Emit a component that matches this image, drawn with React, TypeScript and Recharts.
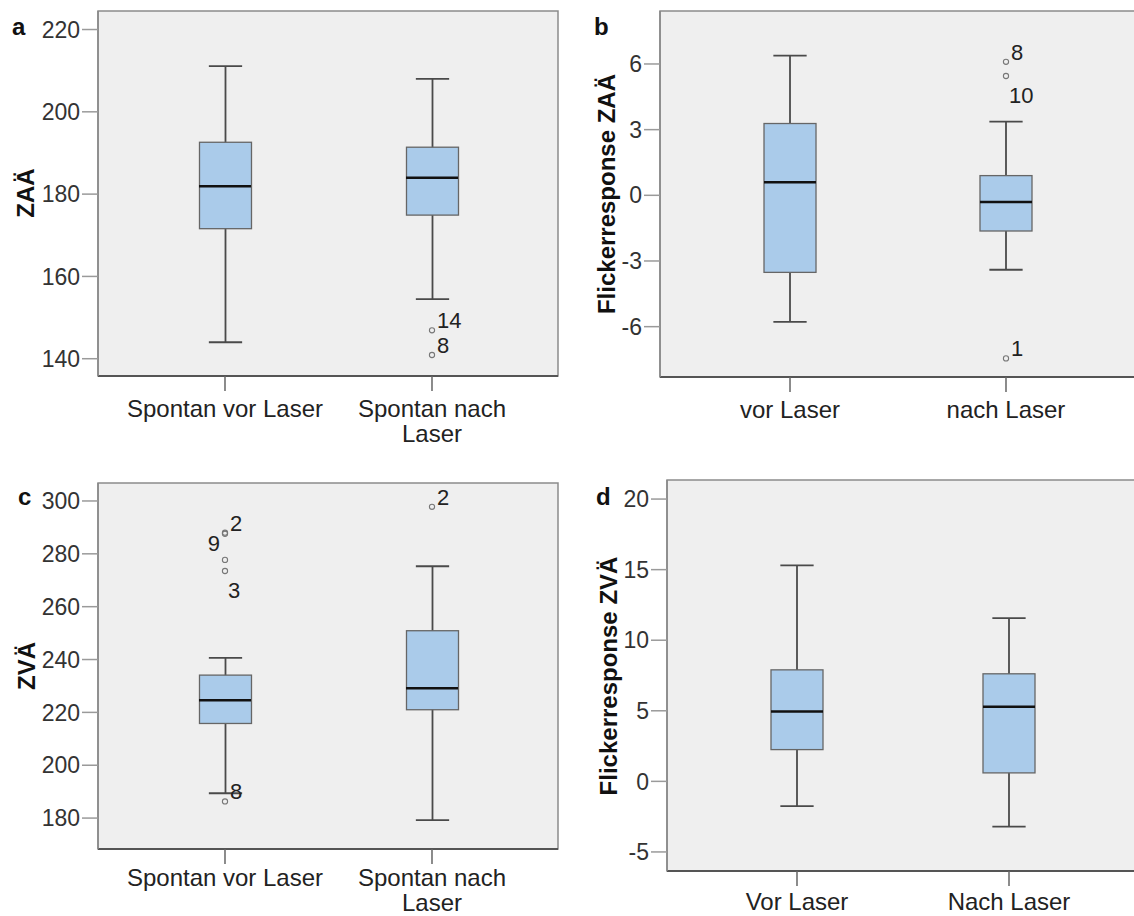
import React from "react";
import { ComposedChart, Bar, Scatter, XAxis, YAxis, ReferenceArea } from "recharts";

const FONT = '"Liberation Sans", Arial, sans-serif';
const BOX_W = 52;
const BOX_FILL = "#aacbea";

// a: ZAÄ spontan
const zaaCats = ["Spontan vor Laser", "Spontan nach Laser"];
const zaaStats = [
  { cat: 0, min: 144.0, q1: 171.6, median: 181.9, q3: 192.6, max: 211.1 },
  { cat: 1, min: 154.5, q1: 174.9, median: 184.0, q3: 191.4, max: 208.0 },
];
const zaaOutliers = [
  { cat: 1, value: 146.9, caseNo: "14" },
  { cat: 1, value: 140.9, caseNo: "8" },
];
const zaaTicks = [140, 160, 180, 200, 220];

// b: Flickerresponse ZAÄ
const fzaaCats = ["vor Laser", "nach Laser"];
const fzaaStats = [
  { cat: 0, min: -5.78, q1: -3.52, median: 0.6, q3: 3.28, max: 6.38 },
  { cat: 1, min: -3.4, q1: -1.63, median: -0.3, q3: 0.9, max: 3.37 },
];
const fzaaOutliers = [
  { cat: 1, value: 6.1, caseNo: "8" },
  { cat: 1, value: 5.45, caseNo: "10" },
  { cat: 1, value: -7.45, caseNo: "1" },
];
const fzaaTicks = [-6, -3, 0, 3, 6];

// c: ZVÄ spontan
const zvaCats = ["Spontan vor Laser", "Spontan nach Laser"];
const zvaStats = [
  { cat: 0, min: 189.4, q1: 215.8, median: 224.6, q3: 234.1, max: 240.6 },
  { cat: 1, min: 179.2, q1: 221.0, median: 229.1, q3: 250.9, max: 275.3 },
];
const zvaOutliers = [
  { cat: 0, value: 288.0, caseNo: "2" },
  { cat: 0, value: 287.6, caseNo: "9" },
  { cat: 0, value: 277.7, caseNo: "" },
  { cat: 0, value: 273.5, caseNo: "3" },
  { cat: 0, value: 186.3, caseNo: "8" },
  { cat: 1, value: 297.8, caseNo: "2" },
];
const zvaTicks = [180, 200, 220, 240, 260, 280, 300];

// d: Flickerresponse ZVÄ
const fzvaCats = ["Vor Laser", "Nach Laser"];
const fzvaStats = [
  { cat: 0, min: -1.75, q1: 2.25, median: 4.95, q3: 7.9, max: 15.3 },
  { cat: 1, min: -3.2, q1: 0.6, median: 5.28, q3: 7.62, max: 11.56 },
];
const fzvaTicks = [-5, 0, 5, 10, 15, 20];

// where the case number sits next to its circle (default: above right)
const labelSide: Record<string, string> = {
  "b-10": "below",
  "c-9": "belowLeft",
  "c-3": "below",
};

function wrap(text: string, max = 17) {
  const lines: string[] = [];
  let cur = "";
  text.split(" ").forEach((w) => {
    const next = cur ? cur + " " + w : w;
    if (next.length > max && cur) {
      lines.push(cur);
      cur = w;
    } else cur = next;
  });
  if (cur) lines.push(cur);
  return lines;
}

const Whisker = (props: any) => {
  const { x, y, width, height } = props;
  const cx = x + width / 2;
  const cap = width * 0.32;
  return (
    <g stroke="#4a4a4a" strokeWidth={1.8}>
      <line x1={cx} x2={cx} y1={y} y2={y + height} />
      <line x1={cx - cap} x2={cx + cap} y1={y} y2={y} />
      <line x1={cx - cap} x2={cx + cap} y1={y + height} y2={y + height} />
    </g>
  );
};

const BoxShape = (props: any) => {
  const { x, y, width, height } = props;
  return <rect x={x} y={y} width={width} height={height} fill={BOX_FILL} stroke="#666" strokeWidth={1.3} />;
};

const MedianShape = (props: any) => {
  const { cx, cy } = props;
  return <line x1={cx - BOX_W / 2} x2={cx + BOX_W / 2} y1={cy} y2={cy} stroke="#111" strokeWidth={2.5} />;
};

function makeOutlier(panel: string) {
  return (props: any) => {
    const { cx, cy, payload } = props;
    const side = labelSide[`${panel}-${payload.caseNo}`] ?? "aboveRight";
    let tx = cx + 5;
    let ty = cy - 2;
    let anchor = "start";
    if (side === "below") {
      tx = cx + 3;
      ty = cy + 27;
    } else if (side === "belowLeft") {
      tx = cx - 5;
      ty = cy + 17;
      anchor = "end";
    }
    return (
      <g>
        <circle cx={cx} cy={cy} r={2.6} fill="none" stroke="#777" strokeWidth={1.1} />
        {payload.caseNo ? (
          <text x={tx} y={ty} textAnchor={anchor} fill="#222" fontSize={22} fontFamily={FONT}>
            {payload.caseNo}
          </text>
        ) : null}
      </g>
    );
  };
}

function Panel(p: any) {
  const CatTick = (t: any) => {
    const lines = wrap(p.cats[t.payload.value]);
    return (
      <text x={t.x} y={t.y} textAnchor="middle" fill="#222" fontSize={24} fontFamily={FONT}>
        {lines.map((l: string, i: number) => (
          <tspan key={i} x={t.x} dy={i === 0 ? "0.71em" : 25}>
            {l}
          </tspan>
        ))}
      </text>
    );
  };
  return (
    <div style={{ position: "absolute", left: p.left, top: p.top }}>
      <ComposedChart width={p.width} height={p.height} data={p.stats} margin={p.margin} barGap={-BOX_W}>
        <ReferenceArea
          x1={p.xDomain[0]}
          x2={p.xDomain[1]}
          y1={p.yDomain[0]}
          y2={p.yDomain[1]}
          fill="#efefef"
          fillOpacity={1}
          stroke="#8c8c8c"
          strokeWidth={1.5}
          ifOverflow="visible"
        />
        <XAxis
          type="number"
          dataKey="cat"
          domain={p.xDomain}
          ticks={[0, 1]}
          allowDataOverflow
          interval={0}
          height={p.xHeight}
          tickSize={15}
          tickMargin={p.xMargin}
          tick={CatTick}
          tickLine={{ stroke: "#666", strokeWidth: 1.5 }}
          axisLine={{ stroke: "#555", strokeWidth: 1.8 }}
        />
        <YAxis
          type="number"
          domain={p.yDomain}
          ticks={p.ticks}
          allowDataOverflow
          interval={0}
          width={p.yWidth}
          tickSize={16}
          tickMargin={2}
          tick={{ fill: "#333", fontSize: 23, fontFamily: FONT }}
          tickLine={{ stroke: "#9a9a9a", strokeWidth: 1.5 }}
          axisLine={{ stroke: "#888", strokeWidth: 1.5 }}
        />
        <Bar dataKey={(d: any) => [d.min, d.max]} barSize={BOX_W} shape={Whisker} isAnimationActive={false} />
        <Bar dataKey={(d: any) => [d.q1, d.q3]} barSize={BOX_W} shape={BoxShape} isAnimationActive={false} />
        <Scatter dataKey="median" shape={MedianShape} isAnimationActive={false} />
        {p.outliers.length > 0 && (
          <Scatter data={p.outliers} dataKey="value" shape={makeOutlier(p.id)} isAnimationActive={false} />
        )}
      </ComposedChart>
    </div>
  );
}

export default function App() {
  return (
    <div
      style={{
        position: "absolute",
        left: 0,
        top: 0,
        width: 1134,
        height: 916,
        overflow: "hidden",
        background: "#fff",
        fontFamily: FONT,
      }}
    >
      <Panel
        id="a"
        left={0}
        top={0}
        width={570}
        height={450}
        margin={{ top: 11, right: 12, bottom: 0, left: 0 }}
        yWidth={98}
        xHeight={74}
        xMargin={9}
        xDomain={[-0.6135, 1.6087]}
        yDomain={[135.8, 224.5]}
        ticks={zaaTicks}
        cats={zaaCats}
        stats={zaaStats}
        outliers={zaaOutliers}
      />
      <Panel
        id="b"
        left={570}
        top={0}
        width={600}
        height={450}
        margin={{ top: 11, right: 34, bottom: 0, left: 0 }}
        yWidth={90}
        xHeight={73}
        xMargin={9}
        xDomain={[-0.6019, 1.6019]}
        yDomain={[-8.3, 8.42]}
        ticks={fzaaTicks}
        cats={fzaaCats}
        stats={fzaaStats}
        outliers={fzaaOutliers}
      />
      <Panel
        id="c"
        left={0}
        top={460}
        width={570}
        height={456}
        margin={{ top: 23, right: 12, bottom: 0, left: 0 }}
        yWidth={98}
        xHeight={67}
        xMargin={5}
        xDomain={[-0.6135, 1.6087]}
        yDomain={[168.3, 306.8]}
        ticks={zvaTicks}
        cats={zvaCats}
        stats={zvaStats}
        outliers={zvaOutliers}
      />
      <Panel
        id="d"
        left={570}
        top={460}
        width={600}
        height={456}
        margin={{ top: 20, right: 31, bottom: 0, left: 0 }}
        yWidth={97}
        xHeight={45}
        xMargin={7}
        xDomain={[-0.6132, 1.6132]}
        yDomain={[-6.35, 21.35]}
        ticks={fzvaTicks}
        cats={fzvaCats}
        stats={fzvaStats}
        outliers={[]}
      />
      <svg
        width={1134}
        height={916}
        style={{ position: "absolute", left: 0, top: 0, pointerEvents: "none" }}
        fontFamily={FONT}
        fontWeight="bold"
        fill="#111"
      >
        <text x={12} y={35} fontSize={24}>a</text>
        <text x={594} y={35} fontSize={24}>b</text>
        <text x={18} y={505} fontSize={24}>c</text>
        <text x={596} y={505} fontSize={24}>d</text>
        <text transform="translate(34,193) rotate(-90)" textAnchor="middle" fontSize={24}>ZAÄ</text>
        <text transform="translate(615,194) rotate(-90)" textAnchor="middle" fontSize={24}>Flickerresponse ZAÄ</text>
        <text transform="translate(35,666) rotate(-90)" textAnchor="middle" fontSize={24}>ZVÄ</text>
        <text transform="translate(617,676) rotate(-90)" textAnchor="middle" fontSize={24}>Flickerresponse ZVÄ</text>
      </svg>
    </div>
  );
}
